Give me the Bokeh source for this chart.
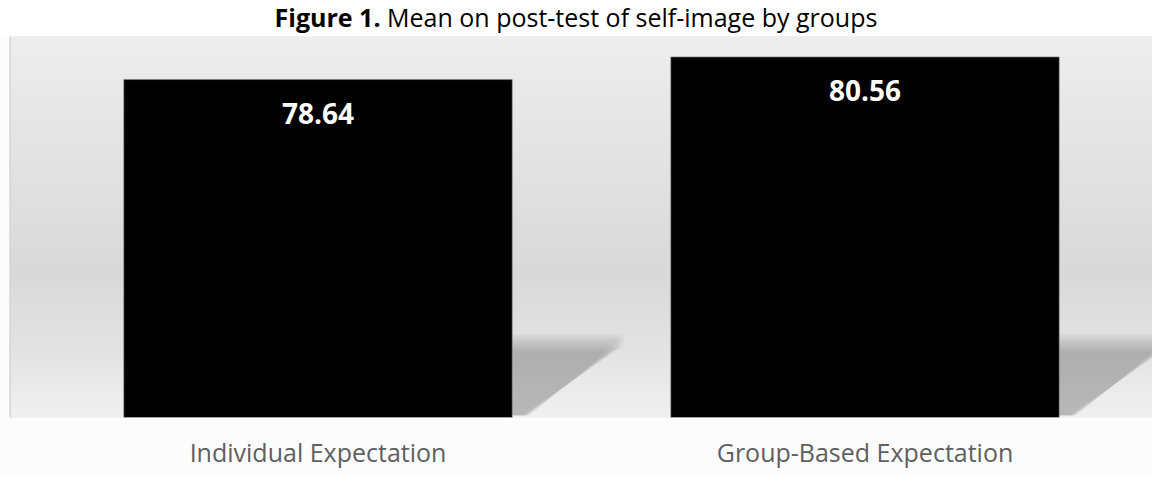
import numpy as np
from bokeh.plotting import figure
from bokeh.models import Range1d, Span, Div, FixedTicker
from bokeh.layouts import column
from bokeh.core.properties import value
from bokeh.embed import file_html
from bokeh.resources import INLINE

# ---- data ----
categories = ["Individual Expectation", "Group-Based Expectation"]
means = [78.64, 80.56]
labels = ["78.64", "80.56"]
title_bold = "Figure 1."
title_rest = "Mean on post-test of self-image by groups"

# ---- layout constants ----
W, H = 1152, 441
BASE = 50.0
Y_END = 82.29
X_START, X_END = -0.564, 1.5256
BAR_W = 0.71
FONT = "Open Sans"

xs = list(range(len(categories)))

p = figure(width=W, height=H, output_backend="svg", toolbar_location=None,
           x_range=Range1d(X_START, X_END), y_range=Range1d(BASE, Y_END),
           min_border_left=9, min_border_right=0, min_border_top=0, min_border_bottom=60)
p.outline_line_color = None
p.grid.visible = False
p.background_fill_color = "#e6e6e6"
p.border_fill_color = "#fcfcfc"

# vertical gradient background (styling)
stops_y = np.array([0.0, 0.30, 0.62, 0.82, 1.0])   # fraction from top of frame
stops_c = np.array([238, 228, 217, 227, 241])
n = 400
fr = np.linspace(0, 1, n)
g = np.interp(fr, stops_y, stops_c).astype(np.uint32)
img = np.empty((n, 1), dtype=np.uint32)
view = img.view(dtype=np.uint8).reshape((n, 1, 4))
view[:, 0, 0] = g
view[:, 0, 1] = g
view[:, 0, 2] = g
view[:, 0, 3] = 255
img = img[::-1]  # row 0 is the bottom
p.image_rgba(image=[img], x=X_START, y=BASE, dw=X_END - X_START, dh=Y_END - BASE)

# soft shadows to the right of each bar (styling)
px_x = 547.0   # pixels per x unit
px_y = 11.8    # pixels per y unit
for xc in xs:
    R = xc + BAR_W / 2
    for k in range(12):
        ins = k * 1.8
        sx = [0, 0, 112 - ins, 112 - ins, 10 + ins * 0.4]
        sy = [2, 84 - ins * 0.9, 84 - ins * 0.9, 72 - ins * 0.4, 2]
        px = [R + v / px_x for v in sx]
        py = [BASE + v / px_y for v in sy]
        p.patch(px, py, fill_color="black", fill_alpha=0.02, line_color=None)

p.vbar(x=xs, top=means, bottom=BASE, width=BAR_W, fill_color="black",
       line_color="#7f7f7f", line_width=0.6)

p.text(x=xs, y=means, text=labels, text_align="center", text_baseline="top",
       y_offset=23, text_color="white", text_font=value(FONT),
       text_font_size="28px", text_font_style="bold")

p.yaxis.visible = False
ax = p.xaxis[0]
ax.ticker = FixedTicker(ticks=xs)
ax.major_label_overrides = {i: c for i, c in zip(xs, categories)}
ax.axis_line_color = None
ax.major_tick_line_color = None
ax.minor_tick_line_color = None
ax.major_label_text_font = FONT
ax.major_label_text_font_size = "25px"
ax.major_label_text_color = "#5f5f5f"
ax.major_label_standoff = 11

p.add_layout(Span(location=X_START, dimension="height", line_color="#d6d6d6", line_width=3))

div = Div(text=f"<b>{title_bold}</b> {title_rest}", width=W, height=36,
          margin=(0, 0, 0, 0),
          styles={"font-family": FONT, "font-size": "25px", "color": "#000000",
                  "text-align": "center", "width": f"{W}px", "line-height": "34px",
                  "overflow": "visible"})

layout = column(div, p, spacing=0)
open("out.html", "w").write(file_html(layout, INLINE))
